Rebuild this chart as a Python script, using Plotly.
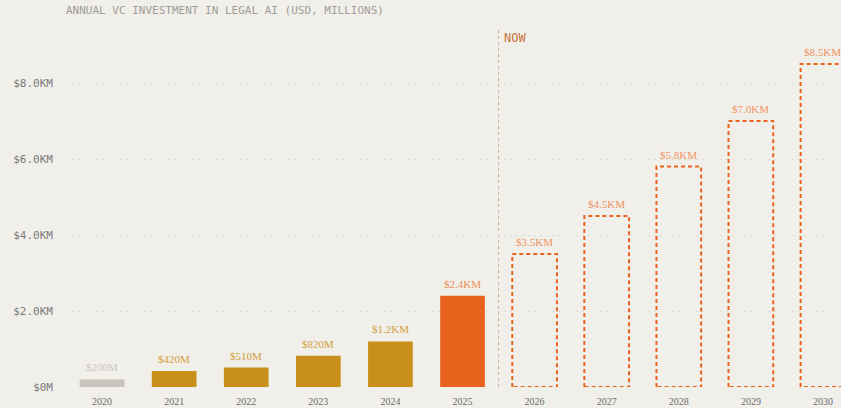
import plotly.graph_objects as go

years = ["2020", "2021", "2022", "2023", "2024", "2025", "2026", "2027", "2028", "2029", "2030"]
values = [200, 420, 510, 820, 1200, 2400, 3500, 4500, 5800, 7000, 8500]
labels = ["$200M", "$420M", "$510M", "$820M", "$1.2KM", "$2.4KM", "$3.5KM", "$4.5KM", "$5.8KM", "$7.0KM", "$8.5KM"]
kind = ["muted", "gold", "gold", "gold", "gold", "now", "proj", "proj", "proj", "proj", "proj"]
ytick_vals = [0, 2000, 4000, 6000, 8000]
ytick_text = ["$0M", "$2.0KM", "$4.0KM", "$6.0KM", "$8.0KM"]

BG = "#f1efea"
fill = {"muted": "#c9c3bb", "gold": "#c98f1b", "now": "#e8641e", "proj": "rgba(0,0,0,0)"}
labcol = {"muted": "#cdc7bf", "gold": "#d3a040", "now": "#e98f58", "proj": "#ef9462"}
W = 0.62

xs = list(range(len(years)))
fig = go.Figure()

solid = [i for i in xs if kind[i] != "proj"]
fig.add_trace(go.Bar(
    x=[xs[i] for i in solid], y=[values[i] for i in solid], width=W,
    marker=dict(color=[fill[kind[i]] for i in solid], line=dict(width=0)),
    hoverinfo="skip", showlegend=False,
))

for i in xs:
    if kind[i] == "proj":
        x0, x1 = xs[i] - W / 2, xs[i] + W / 2
        fig.add_trace(go.Scatter(
            x=[x0, x0, x1, x1, x0], y=[0, values[i], values[i], 0, 0],
            mode="lines", line=dict(color="#e8641e", width=2, dash="4px,3px"),
            cliponaxis=False, hoverinfo="skip", showlegend=False,
        ))

for i in xs:
    fig.add_annotation(
        x=xs[i], y=values[i], text=labels[i], showarrow=False,
        yanchor="bottom", xanchor="center", yshift=4,
        font=dict(family="Liberation Serif", size=11, color=labcol[kind[i]]),
    )

now_x = 5.5
fig.add_shape(type="line", xref="x", yref="paper", x0=now_x, x1=now_x, y0=0, y1=1,
              line=dict(color="#cfae94", width=1, dash="3px,3px"), layer="below")
fig.add_annotation(x=now_x, y=(387 - 38) / 360, xref="x", yref="paper", text="NOW",
                   showarrow=False, xanchor="left", yanchor="middle", xshift=3,
                   font=dict(family="DejaVu Sans Mono", size=12, color="#c8733a"))

fig.add_annotation(x=0, y=1 + 16 / 360, xref="paper", yref="paper",
                   text="ANNUAL VC INVESTMENT IN LEGAL AI (USD, MILLIONS)",
                   showarrow=False, xanchor="left", yanchor="middle", xshift=-2,
                   font=dict(family="DejaVu Sans Mono", size=11, color="#a09d97"))

fig.update_layout(
    width=841, height=408,
    margin=dict(l=66, r=0, t=27, b=21),
    paper_bgcolor=BG, plot_bgcolor=BG,
    bargap=0.38,
    xaxis=dict(range=[-0.5, 10.25], tickmode="array", tickvals=xs, ticktext=years,
               showgrid=False, zeroline=False, showline=False, ticks="", ticklabelstandoff=7,
               tickfont=dict(family="Liberation Serif", size=10, color="#6a6a6a")),
    yaxis=dict(range=[0, 9474], tickmode="array", tickvals=ytick_vals, ticktext=ytick_text,
               showgrid=True, gridcolor="#dedbd4", griddash="2px,4px", gridwidth=1,
               zeroline=False, showline=False, ticks="", ticklabelstandoff=12,
               tickfont=dict(family="DejaVu Sans Mono", size=11, color="#7a7a7a")),
)

fig.write_html("out.html")
